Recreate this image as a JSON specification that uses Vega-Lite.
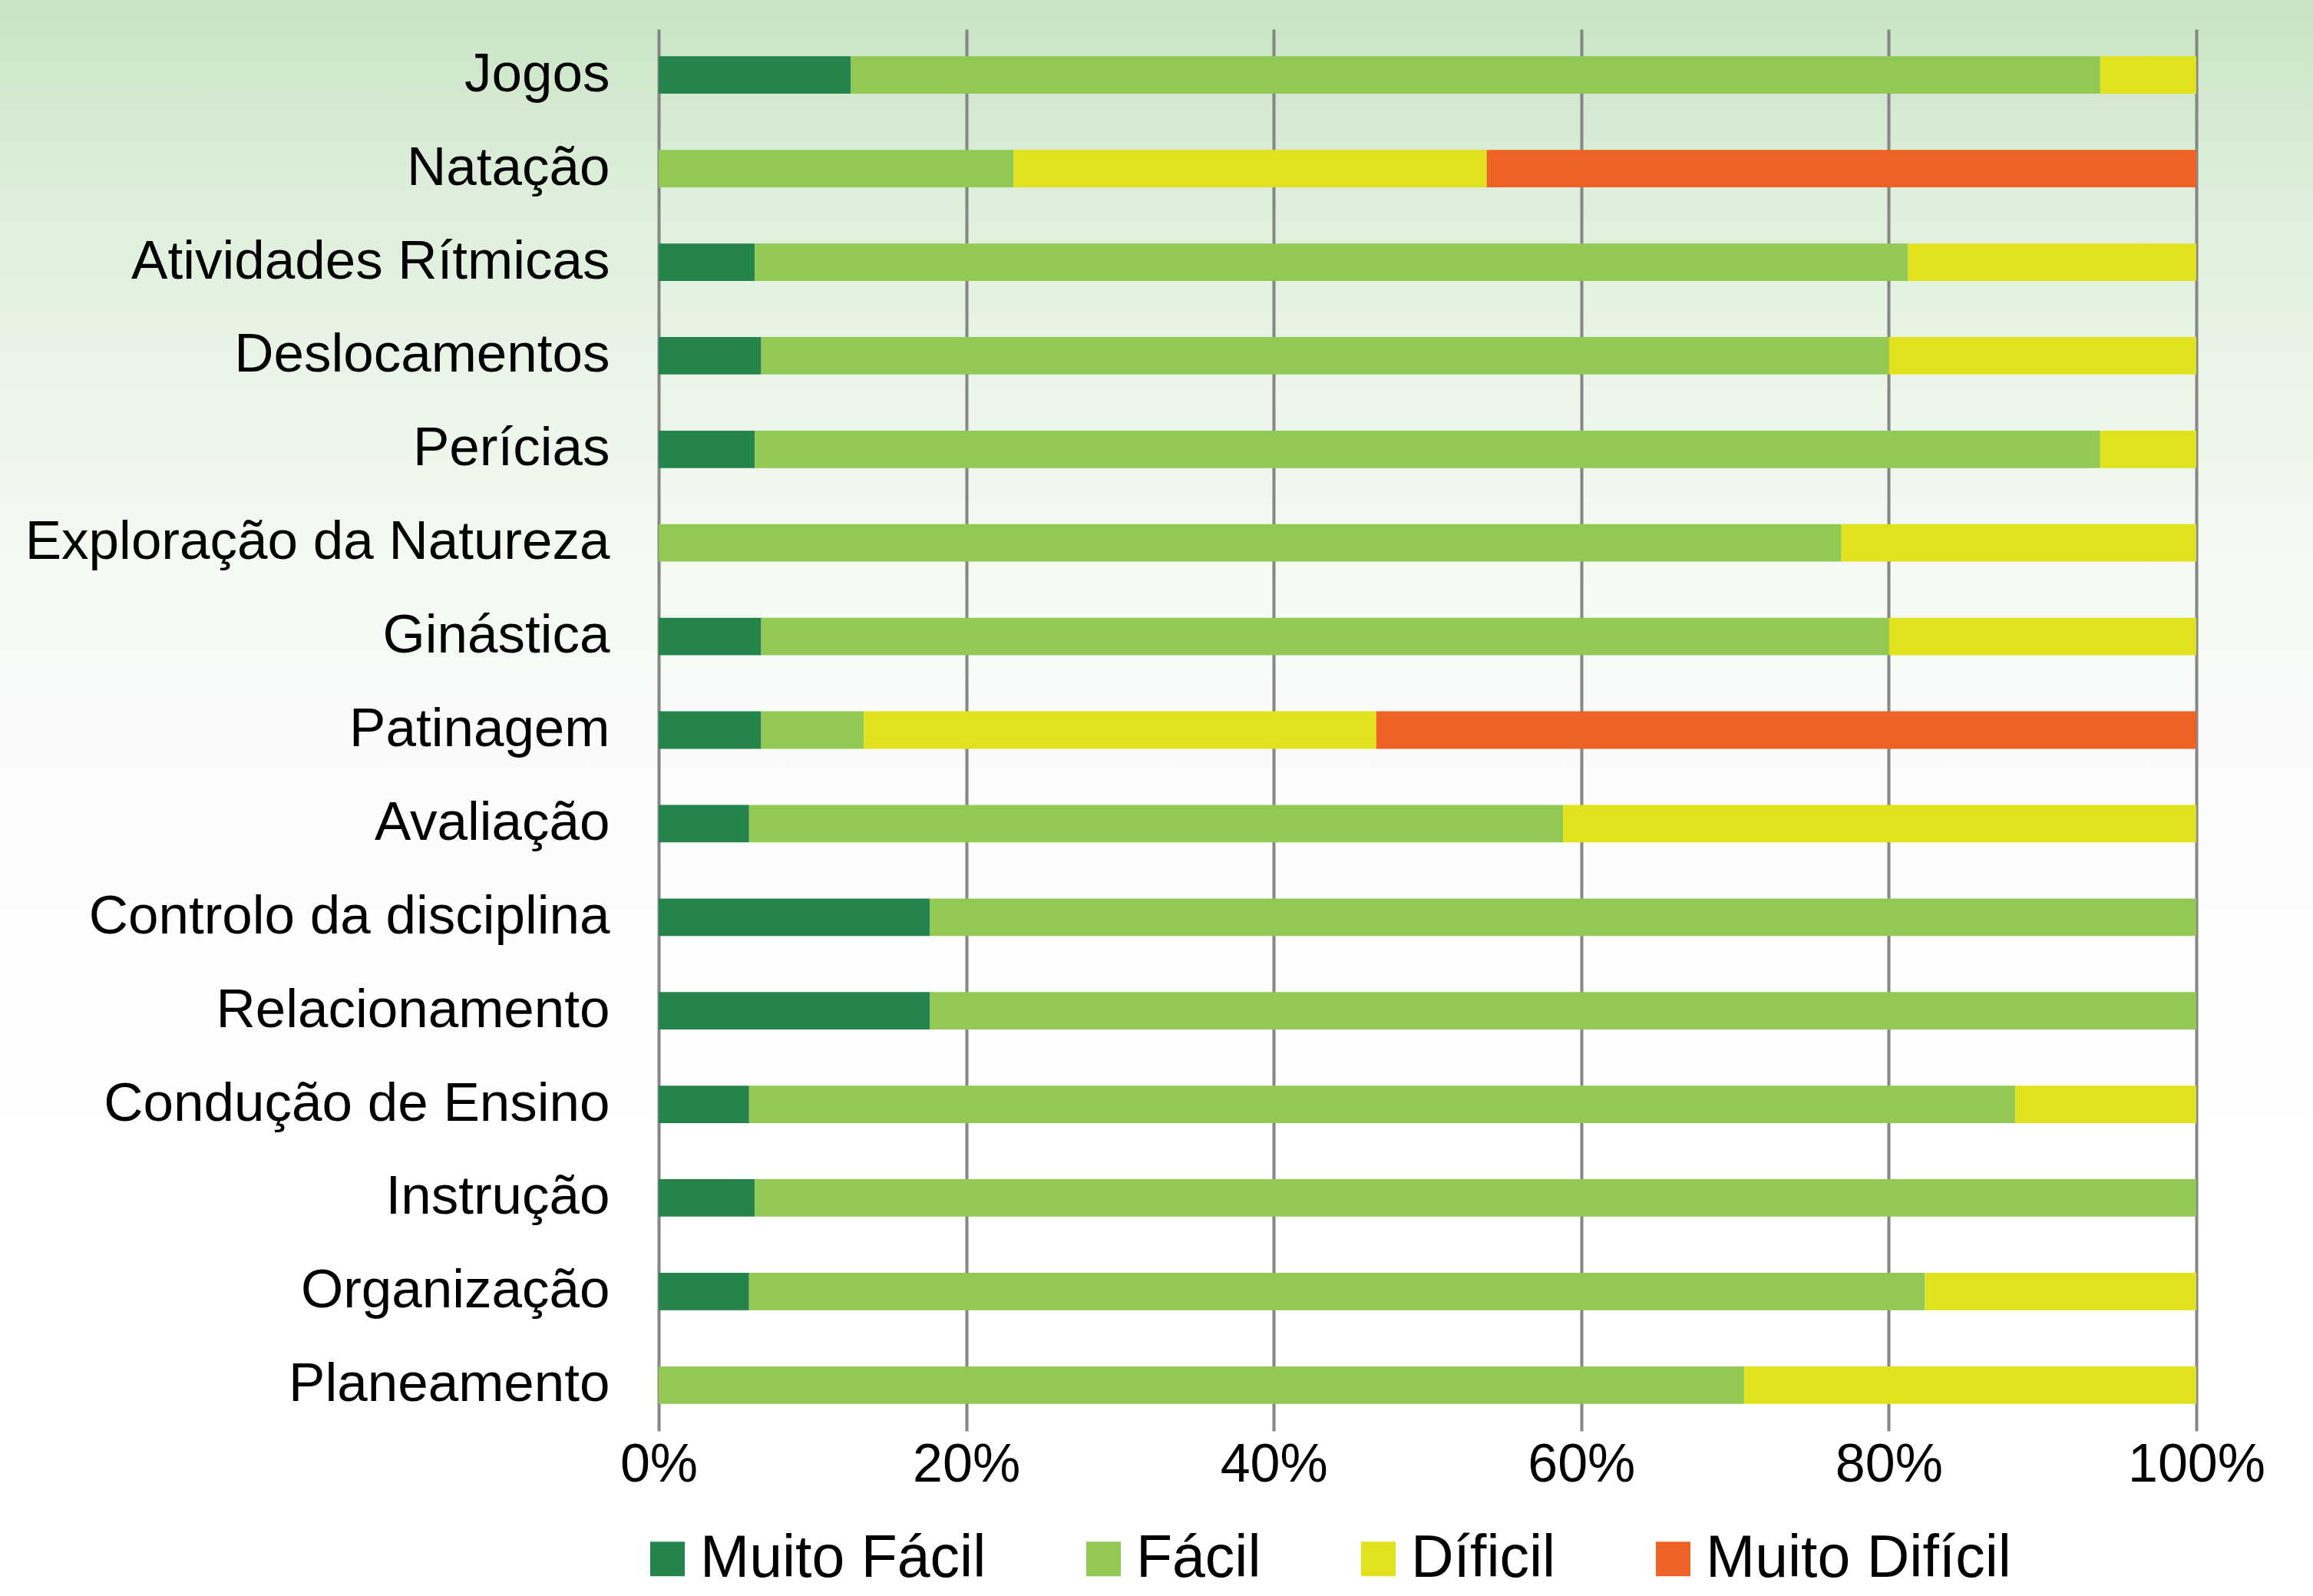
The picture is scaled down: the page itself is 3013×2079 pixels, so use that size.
{
  "$schema": "https://vega.github.io/schema/vega-lite/v6.json",
  "width": 3013,
  "height": 2079,
  "autosize": {"type": "none"},
  "padding": 0,
  "background": "#FFFFFF",
  "data": {
    "values": [
      {"area": "Jogos", "nivel": "Muito Fácil", "pct": 12.5},
      {"area": "Jogos", "nivel": "Fácil", "pct": 81.25},
      {"area": "Jogos", "nivel": "Díficil", "pct": 6.25},
      {"area": "Natação", "nivel": "Fácil", "pct": 23.08},
      {"area": "Natação", "nivel": "Díficil", "pct": 30.77},
      {"area": "Natação", "nivel": "Muito Difícil", "pct": 46.15},
      {"area": "Atividades Rítmicas", "nivel": "Muito Fácil", "pct": 6.25},
      {"area": "Atividades Rítmicas", "nivel": "Fácil", "pct": 75.0},
      {"area": "Atividades Rítmicas", "nivel": "Díficil", "pct": 18.75},
      {"area": "Deslocamentos", "nivel": "Muito Fácil", "pct": 6.67},
      {"area": "Deslocamentos", "nivel": "Fácil", "pct": 73.33},
      {"area": "Deslocamentos", "nivel": "Díficil", "pct": 20.0},
      {"area": "Perícias", "nivel": "Muito Fácil", "pct": 6.25},
      {"area": "Perícias", "nivel": "Fácil", "pct": 87.5},
      {"area": "Perícias", "nivel": "Díficil", "pct": 6.25},
      {"area": "Exploração da Natureza", "nivel": "Fácil", "pct": 76.92},
      {"area": "Exploração da Natureza", "nivel": "Díficil", "pct": 23.08},
      {"area": "Ginástica", "nivel": "Muito Fácil", "pct": 6.67},
      {"area": "Ginástica", "nivel": "Fácil", "pct": 73.33},
      {"area": "Ginástica", "nivel": "Díficil", "pct": 20.0},
      {"area": "Patinagem", "nivel": "Muito Fácil", "pct": 6.67},
      {"area": "Patinagem", "nivel": "Fácil", "pct": 6.67},
      {"area": "Patinagem", "nivel": "Díficil", "pct": 33.33},
      {"area": "Patinagem", "nivel": "Muito Difícil", "pct": 53.33},
      {"area": "Avaliação", "nivel": "Muito Fácil", "pct": 5.88},
      {"area": "Avaliação", "nivel": "Fácil", "pct": 52.94},
      {"area": "Avaliação", "nivel": "Díficil", "pct": 41.18},
      {"area": "Controlo da disciplina", "nivel": "Muito Fácil", "pct": 17.65},
      {"area": "Controlo da disciplina", "nivel": "Fácil", "pct": 82.35},
      {"area": "Relacionamento", "nivel": "Muito Fácil", "pct": 17.65},
      {"area": "Relacionamento", "nivel": "Fácil", "pct": 82.35},
      {"area": "Condução de Ensino", "nivel": "Muito Fácil", "pct": 5.88},
      {"area": "Condução de Ensino", "nivel": "Fácil", "pct": 82.35},
      {"area": "Condução de Ensino", "nivel": "Díficil", "pct": 11.76},
      {"area": "Instrução", "nivel": "Muito Fácil", "pct": 6.25},
      {"area": "Instrução", "nivel": "Fácil", "pct": 93.75},
      {"area": "Organização", "nivel": "Muito Fácil", "pct": 5.88},
      {"area": "Organização", "nivel": "Fácil", "pct": 76.47},
      {"area": "Organização", "nivel": "Díficil", "pct": 17.65},
      {"area": "Planeamento", "nivel": "Fácil", "pct": 70.59},
      {"area": "Planeamento", "nivel": "Díficil", "pct": 29.41}
    ]
  },
  "transform": [
    {"calculate": "indexof(['Muito Fácil','Fácil','Díficil','Muito Difícil'], datum.nivel)", "as": "ordem"}
  ],
  "mark": {"type": "bar"},
  "encoding": {
    "y": {
      "field": "area",
      "type": "nominal",
      "sort": null,
      "scale": {"range": [38, 1864], "paddingInner": 0.6, "paddingOuter": 0.29},
      "axis": {
        "title": null,
        "offset": -858,
        "ticks": false,
        "domain": false,
        "labelFontSize": 71,
        "labelPadding": 64,
        "labelLimit": 1200,
        "labelColor": "#000000"
      }
    },
    "x": {
      "field": "pct",
      "type": "quantitative",
      "stack": "normalize",
      "scale": {"domain": [0, 1], "range": [858, 2861]},
      "axis": {
        "title": null,
        "orient": "top",
        "values": [0, 0.2, 0.4, 0.6, 0.8, 1],
        "format": ".0%",
        "ticks": false,
        "domain": false,
        "grid": true,
        "gridColor": "#868686",
        "gridWidth": 4,
        "labelFlush": false,
        "labelBaseline": "top",
        "labelFontSize": 70,
        "labelPadding": -1874,
        "labelColor": "#000000"
      }
    },
    "order": {"field": "ordem", "type": "quantitative", "sort": "ascending"},
    "color": {
      "field": "nivel",
      "type": "nominal",
      "sort": ["Muito Fácil", "Fácil", "Díficil", "Muito Difícil"],
      "scale": {
        "domain": ["Muito Fácil", "Fácil", "Díficil", "Muito Difícil"],
        "range": ["#25834C", "#92C954", "#DFE21D", "#EE6325"]
      },
      "legend": {
        "title": null,
        "orient": "none",
        "legendX": 831,
        "legendY": 1992,
        "direction": "horizontal",
        "symbolType": "square",
        "symbolSize": 2025,
        "symbolStrokeWidth": 0,
        "labelFontSize": 77,
        "labelLimit": 1200,
        "labelOffset": 4,
        "columnPadding": 114,
        "padding": 0,
        "labelColor": "#000000"
      }
    }
  },
  "config": {
    "font": "Liberation Sans",
    "view": {
      "stroke": null,
      "fill": {
        "gradient": "linear",
        "x1": 0, "y1": 0, "x2": 0, "y2": 1,
        "stops": [
          {"offset": 0, "color": "#C8E4C4"},
          {"offset": 0.12, "color": "#DDEFDA"},
          {"offset": 0.24, "color": "#EBF5E8"},
          {"offset": 0.36, "color": "#F5FAF4"},
          {"offset": 0.48, "color": "#FAFCFA"},
          {"offset": 0.7, "color": "#FFFFFF"},
          {"offset": 1, "color": "#FFFFFF"}
        ]
      }
    }
  }
}
